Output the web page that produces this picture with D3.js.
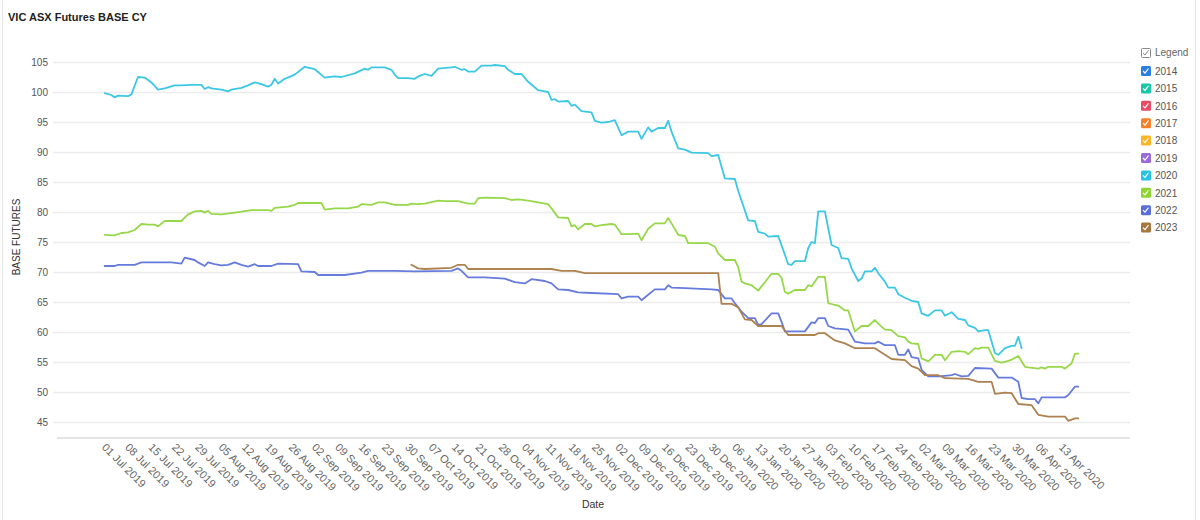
<!DOCTYPE html>
<html>
<head>
<meta charset="utf-8">
<script src="https://cdn.jsdelivr.net/npm/d3@7"></script>
<style>
html,body{margin:0;padding:0;background:#fff;}
svg{display:block;font-family:"Liberation Sans",Arial,sans-serif;}
</style>
</head>
<body>
<svg id="chart" width="1200" height="520"></svg>
<script>
// ---------- DATA ----------
const title = "VIC ASX Futures BASE CY";
const yTitle = "BASE FUTURES";
const xTitle = "Date";
const legendYears = ["2014","2015","2016","2017","2018","2019","2020","2021","2022","2023"];
const legendColors = ["#2b7de0","#19c6a6","#e84a64","#f5822a","#fbb626","#9a6ad6","#26c3e3","#8ed52f","#5b6dd6","#a6773f"];
const yTicks = [45,50,55,60,65,70,75,80,85,90,95,100,105];
const xTickStart = "2019-07-01";
const xTickEnd = "2020-04-13";

const cy2020 = [["2019-07-01",99.8],["2019-07-03",99.5],["2019-07-04",99.1],["2019-07-05",99.4],["2019-07-08",99.3],["2019-07-09",99.6],["2019-07-11",102.5],["2019-07-13",102.4],["2019-07-15",101.6],["2019-07-17",100.4],["2019-07-19",100.6],["2019-07-22",101.1],["2019-07-24",101.1],["2019-07-27",101.2],["2019-07-30",101.2],["2019-07-31",100.5],["2019-08-01",100.8],["2019-08-02",100.6],["2019-08-05",100.4],["2019-08-07",100.1],["2019-08-08",100.4],["2019-08-11",100.7],["2019-08-13",101.1],["2019-08-15",101.6],["2019-08-17",101.3],["2019-08-19",100.9],["2019-08-20",101.2],["2019-08-21",102.2],["2019-08-22",101.4],["2019-08-24",102.2],["2019-08-27",102.9],["2019-08-30",104.2],["2019-09-02",103.8],["2019-09-05",102.4],["2019-09-08",102.6],["2019-09-10",102.5],["2019-09-14",103.1],["2019-09-17",103.9],["2019-09-18",103.7],["2019-09-19",104.1],["2019-09-23",104.1],["2019-09-25",103.7],["2019-09-26",102.9],["2019-09-27",102.3],["2019-09-30",102.3],["2019-10-02",102.2],["2019-10-03",102.6],["2019-10-05",103.0],["2019-10-07",102.7],["2019-10-09",103.9],["2019-10-13",104.1],["2019-10-14",104.2],["2019-10-16",103.7],["2019-10-17",103.8],["2019-10-18",103.4],["2019-10-20",103.4],["2019-10-22",104.4],["2019-10-25",104.4],["2019-10-26",104.5],["2019-10-29",104.3],["2019-10-30",103.7],["2019-11-01",103.0],["2019-11-03",103.0],["2019-11-05",101.7],["2019-11-08",100.3],["2019-11-10",100.1],["2019-11-11",100.0],["2019-11-12",98.7],["2019-11-13",98.8],["2019-11-14",98.4],["2019-11-17",98.5],["2019-11-18",97.7],["2019-11-19",97.9],["2019-11-21",96.8],["2019-11-24",96.6],["2019-11-25",95.2],["2019-11-27",94.9],["2019-11-29",95.0],["2019-12-01",95.3],["2019-12-03",92.8],["2019-12-05",93.4],["2019-12-08",93.4],["2019-12-09",92.2],["2019-12-11",94.1],["2019-12-12",93.4],["2019-12-14",94.0],["2019-12-16",94.0],["2019-12-17",95.2],["2019-12-18",93.4],["2019-12-20",90.6],["2019-12-22",90.4],["2019-12-24",89.9],["2019-12-29",89.8],["2019-12-30",89.3],["2020-01-01",89.5],["2020-01-03",85.6],["2020-01-06",85.5],["2020-01-07",83.5],["2020-01-10",78.6],["2020-01-12",78.5],["2020-01-13",76.7],["2020-01-15",76.4],["2020-01-16",75.9],["2020-01-19",76.0],["2020-01-22",71.3],["2020-01-23",71.2],["2020-01-24",71.8],["2020-01-27",71.8],["2020-01-28",74.0],["2020-01-29",75.0],["2020-01-30",74.8],["2020-01-31",80.1],["2020-02-02",80.1],["2020-02-03",77.3],["2020-02-04",74.5],["2020-02-06",74.0],["2020-02-07",72.3],["2020-02-09",72.2],["2020-02-10",70.6],["2020-02-12",68.5],["2020-02-13",68.9],["2020-02-14",70.1],["2020-02-16",70.1],["2020-02-17",70.7],["2020-02-18",69.8],["2020-02-20",68.4],["2020-02-21",67.4],["2020-02-23",67.4],["2020-02-24",66.3],["2020-02-26",65.7],["2020-02-28",65.2],["2020-03-01",65.0],["2020-03-02",63.1],["2020-03-04",62.7],["2020-03-06",63.6],["2020-03-08",63.6],["2020-03-09",62.7],["2020-03-11",63.3],["2020-03-13",62.2],["2020-03-15",62.0],["2020-03-16",61.1],["2020-03-18",60.7],["2020-03-19",60.1],["2020-03-21",60.3],["2020-03-22",60.3],["2020-03-24",56.5],["2020-03-25",56.2],["2020-03-27",57.3],["2020-03-29",57.7],["2020-03-30",57.7],["2020-03-31",59.2],["2020-04-01",57.3]];

const cy2021 = [["2019-07-01",76.2],["2019-07-04",76.1],["2019-07-06",76.5],["2019-07-08",76.6],["2019-07-10",77.0],["2019-07-12",78.0],["2019-07-14",77.9],["2019-07-16",77.9],["2019-07-17",77.6],["2019-07-19",78.5],["2019-07-21",78.5],["2019-07-24",78.5],["2019-07-26",79.6],["2019-07-28",80.1],["2019-07-30",80.2],["2019-07-31",79.9],["2019-08-01",80.2],["2019-08-02",79.7],["2019-08-05",79.6],["2019-08-09",79.9],["2019-08-14",80.3],["2019-08-19",80.3],["2019-08-20",80.2],["2019-08-21",80.7],["2019-08-25",80.9],["2019-08-27",81.2],["2019-08-28",81.5],["2019-09-04",81.5],["2019-09-05",80.4],["2019-09-08",80.6],["2019-09-12",80.6],["2019-09-15",80.9],["2019-09-16",81.3],["2019-09-19",81.2],["2019-09-21",81.6],["2019-09-23",81.6],["2019-09-26",81.2],["2019-09-30",81.2],["2019-10-01",81.4],["2019-10-03",81.3],["2019-10-05",81.4],["2019-10-09",81.9],["2019-10-11",81.8],["2019-10-15",81.8],["2019-10-18",81.4],["2019-10-20",81.4],["2019-10-21",82.3],["2019-10-23",82.4],["2019-10-29",82.3],["2019-10-31",82.0],["2019-11-02",82.1],["2019-11-05",81.9],["2019-11-08",81.6],["2019-11-11",81.3],["2019-11-12",80.6],["2019-11-14",79.1],["2019-11-17",79.0],["2019-11-18",77.6],["2019-11-19",77.8],["2019-11-20",77.1],["2019-11-22",78.0],["2019-11-24",78.0],["2019-11-25",77.6],["2019-11-27",77.8],["2019-11-30",78.0],["2019-12-01",77.9],["2019-12-03",76.3],["2019-12-05",76.3],["2019-12-08",76.4],["2019-12-09",75.3],["2019-12-11",77.2],["2019-12-13",78.1],["2019-12-16",78.1],["2019-12-17",79.0],["2019-12-18",78.1],["2019-12-20",76.2],["2019-12-22",76.0],["2019-12-23",74.8],["2019-12-29",74.8],["2019-12-31",74.2],["2020-01-01",73.1],["2020-01-03",72.0],["2020-01-06",72.0],["2020-01-07",70.8],["2020-01-08",68.4],["2020-01-09",68.1],["2020-01-11",67.8],["2020-01-13",66.9],["2020-01-14",67.6],["2020-01-17",69.7],["2020-01-19",69.7],["2020-01-20",69.0],["2020-01-21",66.7],["2020-01-22",66.4],["2020-01-24",67.0],["2020-01-27",67.0],["2020-01-28",67.8],["2020-01-29",67.6],["2020-01-31",69.2],["2020-02-02",69.2],["2020-02-03",64.8],["2020-02-05",64.5],["2020-02-06",64.4],["2020-02-08",63.6],["2020-02-09",63.6],["2020-02-11",60.1],["2020-02-13",61.0],["2020-02-15",61.0],["2020-02-17",62.0],["2020-02-18",61.4],["2020-02-20",60.4],["2020-02-22",60.3],["2020-02-24",59.3],["2020-02-26",59.1],["2020-02-27",58.4],["2020-02-28",58.1],["2020-03-01",58.0],["2020-03-02",55.6],["2020-03-04",55.1],["2020-03-06",56.2],["2020-03-08",56.2],["2020-03-09",55.3],["2020-03-11",56.7],["2020-03-13",56.8],["2020-03-15",56.7],["2020-03-16",56.3],["2020-03-18",57.3],["2020-03-19",57.2],["2020-03-20",57.4],["2020-03-22",57.4],["2020-03-24",55.2],["2020-03-26",54.9],["2020-03-28",55.2],["2020-03-29",55.4],["2020-03-31",56.0],["2020-04-02",54.2],["2020-04-03",54.1],["2020-04-06",53.9],["2020-04-07",54.1],["2020-04-08",53.9],["2020-04-09",54.2],["2020-04-13",54.2],["2020-04-14",53.9],["2020-04-16",54.8],["2020-04-17",56.4],["2020-04-18",56.4]];

const cy2022 = [["2019-07-01",71.0],["2019-07-04",71.0],["2019-07-05",71.2],["2019-07-10",71.2],["2019-07-12",71.6],["2019-07-18",71.6],["2019-07-21",71.6],["2019-07-24",71.4],["2019-07-25",72.4],["2019-07-28",72.0],["2019-07-29",71.6],["2019-07-31",71.0],["2019-08-01",71.6],["2019-08-03",71.3],["2019-08-05",71.1],["2019-08-07",71.2],["2019-08-09",71.6],["2019-08-11",71.2],["2019-08-13",70.9],["2019-08-15",71.3],["2019-08-16",71.0],["2019-08-20",71.0],["2019-08-22",71.4],["2019-08-28",71.3],["2019-08-29",70.1],["2019-09-02",70.0],["2019-09-03",69.5],["2019-09-11",69.5],["2019-09-16",69.9],["2019-09-18",70.2],["2019-09-26",70.2],["2019-10-02",70.1],["2019-10-13",70.2],["2019-10-15",70.6],["2019-10-16",70.2],["2019-10-18",69.1],["2019-10-23",69.1],["2019-10-29",68.9],["2019-11-01",68.3],["2019-11-04",68.1],["2019-11-06",68.8],["2019-11-10",68.5],["2019-11-12",68.1],["2019-11-14",67.1],["2019-11-17",67.0],["2019-11-20",66.6],["2019-11-24",66.5],["2019-12-02",66.3],["2019-12-03",65.6],["2019-12-05",65.9],["2019-12-08",65.9],["2019-12-09",65.3],["2019-12-11",66.2],["2019-12-13",67.1],["2019-12-16",67.1],["2019-12-17",67.8],["2019-12-18",67.4],["2019-12-22",67.3],["2019-12-30",67.1],["2020-01-01",67.0],["2020-01-03",65.6],["2020-01-05",65.6],["2020-01-06",64.8],["2020-01-07",64.1],["2020-01-08",63.4],["2020-01-10",62.3],["2020-01-12",62.3],["2020-01-13",61.2],["2020-01-14",61.3],["2020-01-17",63.1],["2020-01-19",63.1],["2020-01-20",61.7],["2020-01-21",60.1],["2020-01-27",60.1],["2020-01-29",61.6],["2020-01-30",61.5],["2020-01-31",62.3],["2020-02-02",62.3],["2020-02-03",61.0],["2020-02-05",60.6],["2020-02-09",60.4],["2020-02-11",58.4],["2020-02-14",58.1],["2020-02-17",58.1],["2020-02-18",58.4],["2020-02-20",57.8],["2020-02-23",57.8],["2020-02-24",56.2],["2020-02-26",56.2],["2020-02-27",57.1],["2020-02-28",55.8],["2020-03-01",55.6],["2020-03-02",53.7],["2020-03-04",52.6],["2020-03-07",52.6],["2020-03-09",52.7],["2020-03-11",52.8],["2020-03-12",53.0],["2020-03-14",52.6],["2020-03-16",52.7],["2020-03-18",54.0],["2020-03-23",53.9],["2020-03-25",52.4],["2020-03-29",52.4],["2020-03-31",51.7],["2020-04-01",49.0],["2020-04-03",48.8],["2020-04-05",48.8],["2020-04-06",48.1],["2020-04-07",49.1],["2020-04-14",49.1],["2020-04-15",49.5],["2020-04-17",50.9],["2020-04-18",50.9]];

const cy2023 = [["2019-10-01",71.2],["2019-10-03",70.6],["2019-10-05",70.5],["2019-10-13",70.7],["2019-10-15",71.2],["2019-10-17",71.2],["2019-10-18",70.5],["2019-11-12",70.5],["2019-11-15",70.2],["2019-11-19",70.2],["2019-11-22",69.8],["2020-01-01",69.8],["2020-01-02",64.7],["2020-01-05",64.7],["2020-01-07",64.1],["2020-01-09",62.1],["2020-01-11",62.0],["2020-01-13",61.0],["2020-01-20",61.0],["2020-01-22",59.5],["2020-01-30",59.5],["2020-01-31",59.8],["2020-02-02",59.8],["2020-02-05",58.6],["2020-02-08",58.1],["2020-02-11",57.3],["2020-02-17",57.3],["2020-02-20",56.2],["2020-02-22",55.5],["2020-02-26",55.3],["2020-02-28",54.3],["2020-03-01",53.9],["2020-03-03",52.8],["2020-03-07",52.8],["2020-03-09",52.3],["2020-03-16",52.2],["2020-03-19",51.7],["2020-03-23",51.7],["2020-03-24",49.7],["2020-03-27",49.9],["2020-03-29",49.8],["2020-03-31",48.0],["2020-04-04",47.8],["2020-04-06",46.2],["2020-04-09",45.9],["2020-04-14",45.9],["2020-04-15",45.2],["2020-04-17",45.6],["2020-04-18",45.6]];

const seriesList = [
  {name:"2020", color:"#3cc7e5", data:cy2020},
  {name:"2021", color:"#97d84a", data:cy2021},
  {name:"2022", color:"#667bdc", data:cy2022},
  {name:"2023", color:"#ad8150", data:cy2023}
];

// ---------- CHART ----------
const parse = d3.timeParse("%Y-%m-%d");
const svg = d3.select("#chart");
const plotL = 53, plotR = 1130, plotT = 62, plotB = 422;

const x = d3.scaleTime()
  .domain([d3.timeHour.offset(parse(xTickStart), -372), d3.timeHour.offset(parse("2020-05-03"), 12)])
  .range([plotL, plotR]);
const y = d3.scaleLinear().domain([45,105]).range([plotB, plotT]);

// frame lines
svg.append("line").attr("x1",2.5).attr("x2",2.5).attr("y1",0).attr("y2",520).attr("stroke","#e6e6e6");
svg.append("line").attr("x1",1195.5).attr("x2",1195.5).attr("y1",0).attr("y2",520).attr("stroke","#e6e6e6");

// title
svg.append("text").attr("x",8).attr("y",21).attr("font-size",11).attr("font-weight","bold")
  .attr("fill","#222").text(title);

// y grid + labels
const yAxis = d3.axisLeft(y).tickValues(yTicks).tickSize(-(plotR-plotL)).tickPadding(5);
const gy = svg.append("g").attr("transform",`translate(${plotL},0)`).call(yAxis);
gy.select(".domain").remove();
gy.selectAll(".tick line").attr("stroke","#ececec").attr("stroke-width",1.5);
gy.selectAll(".tick text").attr("font-size",10).attr("fill","#555").attr("font-family","Liberation Sans, Arial, sans-serif");

// bottom axis line
svg.append("line").attr("x1",57).attr("x2",plotR).attr("y1",438).attr("y2",438)
  .attr("stroke","#e4e4e4").attr("stroke-width",2);

// x tick labels (weekly Mondays)
const xTickDates = d3.timeMonday.range(parse(xTickStart), d3.timeDay.offset(parse(xTickEnd),1));
const fmt = d3.timeFormat("%d %b %Y");
const xAxis = d3.axisBottom(x).tickValues(xTickDates).tickFormat(fmt).tickSize(0);
const gx = svg.append("g").attr("transform",`translate(0,448)`).call(xAxis);
gx.select(".domain").remove();
gx.selectAll(".tick text")
  .attr("font-size",11).attr("fill","#666").attr("font-family","Liberation Sans, Arial, sans-serif")
  .attr("text-anchor","start").attr("dy",0).attr("y",0).attr("x",0)
  .attr("transform","translate(-4,0) rotate(45)");

// axis titles
svg.append("text").attr("transform","translate(20,237) rotate(-90)").attr("text-anchor","middle")
  .attr("font-size",10).attr("fill","#333").text(yTitle);
svg.append("text").attr("x",593).attr("y",508).attr("text-anchor","middle")
  .attr("font-size",10.5).attr("fill","#333").text(xTitle);

// lines
const line = d3.line().x(d => x(parse(d[0]))).y(d => y(d[1]));
svg.append("g").selectAll("path").data(seriesList).join("path")
  .attr("d", s => line(s.data))
  .attr("fill","none").attr("stroke", s => s.color).attr("stroke-width",1.8)
  .attr("stroke-linejoin","round").attr("stroke-linecap","round");

// legend
const lg = svg.append("g").attr("transform","translate(1141,0)");
const check = "M2,5 L4,7 L7.5,2.5";
const hdr = lg.append("g").attr("transform","translate(0,48)");
hdr.append("rect").attr("x",0.5).attr("y",0.5).attr("width",9).attr("height",9).attr("rx",1)
  .attr("fill","#fff").attr("stroke","#888");
hdr.append("path").attr("d",check).attr("fill","none").attr("stroke","#888").attr("stroke-width",1);
lg.append("text").attr("x",14).attr("y",56).attr("font-size",10).attr("fill","#666").text("Legend");

const items = lg.selectAll("g.item").data(legendYears).join("g").attr("class","item")
  .attr("transform",(d,i)=>`translate(0,${66 + i*17.4})`);
items.append("rect").attr("width",10).attr("height",10).attr("rx",1.5)
  .attr("fill",(d,i)=>legendColors[i]);
items.append("path").attr("d",check).attr("fill","none").attr("stroke","#fff").attr("stroke-width",1.2);
items.append("text").attr("x",14).attr("y",8.8).attr("font-size",10).attr("fill","#555").text(d=>d);
</script>
</body>
</html>
